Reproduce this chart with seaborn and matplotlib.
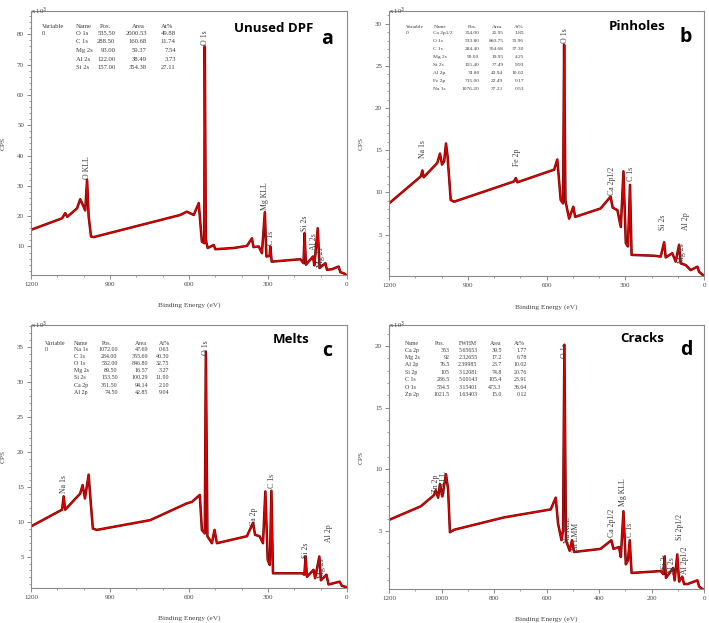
import matplotlib
matplotlib.use("Agg")
import matplotlib.pyplot as plt
import seaborn as sns
import pandas as pd
from matplotlib.ticker import MultipleLocator

sns.set_theme(style="ticks")
plt.rcParams['font.family'] = ['Liberation Serif', 'DejaVu Serif']

# --- spectra (binding energy eV, CPS in 10^3) ---
a_be = [1200, 1082, 1070, 1062, 1025, 1013, 1003, 994, 987, 981, 972, 962, 633, 608, 582, 563,
        551, 542, 540, 536, 529, 506, 500, 430, 380, 361, 355, 335, 323, 312, 306, 294, 291, 286,
        177, 165, 161, 156, 129, 124, 111, 104, 82, 76, 57, 32, 25, 13, 0]
a_cps = [15.5, 19.3, 21.0, 19.8, 22.6, 25.6, 23.7, 21.9, 32.0, 19.9, 13.3, 13.1, 20.4, 21.5, 20.4, 24.3,
         11.6, 11.1, 76.0, 12.2, 9.5, 10.5, 9.1, 9.5, 10.2, 12.7, 9.8, 10.0, 7.8, 21.3, 6.7, 6.9, 10.0, 5.0,
         5.8, 4.5, 14.4, 4.0, 6.7, 3.8, 16.0, 2.9, 4.5, 2.3, 2.5, 3.4, 1.5, 1.2, 0.4]

b_be = [1200, 1079, 1073, 1068, 1016, 1006, 998, 990, 983, 977, 965, 952, 724, 717, 711, 571,
        559, 546, 537, 533, 528, 514, 498, 491, 394, 356, 348, 330, 317, 307, 298, 290, 282, 276,
        190, 165, 152, 146, 121, 108, 95, 89, 70, 51, 25, 19, 0]
b_cps = [8.7, 11.9, 12.6, 11.8, 13.5, 14.6, 13.3, 13.7, 15.8, 14.3, 9.1, 8.9, 11.3, 11.7, 11.2, 12.7,
         13.9, 9.1, 8.7, 27.5, 9.0, 6.9, 8.3, 7.1, 8.1, 9.5, 8.2, 7.9, 5.9, 12.5, 4.0, 3.6, 10.9, 2.6,
         2.5, 2.4, 4.1, 2.3, 2.8, 1.8, 3.8, 1.6, 1.4, 0.8, 1.2, 0.6, 0.1]

c_be = [1200, 1082, 1076, 1070, 1013, 1004, 995, 981, 975, 965, 950, 747, 608, 589, 559, 551,
        540, 536, 530, 513, 503, 494, 380, 357, 349, 332, 319, 310, 301, 293, 287, 281, 171, 162,
        157, 152, 127, 121, 105, 99, 78, 70, 28, 19, 0]
c_cps = [9.3, 11.7, 13.6, 11.7, 14.0, 15.2, 13.3, 16.7, 13.6, 9.0, 8.8, 10.2, 12.6, 12.8, 13.8, 8.8,
         8.3, 34.3, 7.9, 6.9, 8.8, 6.9, 7.9, 9.8, 8.1, 7.9, 6.9, 14.3, 4.5, 3.8, 14.4, 2.6, 2.6, 2.4,
         5.0, 2.1, 3.1, 1.9, 5.0, 1.6, 2.4, 1.0, 1.4, 0.8, 0.6]

d_be = [1200, 1079, 1029, 1022, 1013, 1006, 997, 983, 975, 968, 952, 762, 584, 565, 556, 543,
        537, 532, 526, 512, 503, 495, 394, 353, 345, 324, 317, 307, 298, 290, 283, 276, 165, 155,
        150, 145, 118, 112, 102, 95, 83, 76, 63, 25, 19, 0]
d_cps = [5.9, 7.0, 7.9, 8.3, 7.7, 8.8, 7.8, 9.6, 8.4, 4.9, 5.1, 6.1, 6.75, 7.7, 5.6, 4.25,
         5.1, 20.1, 4.25, 3.4, 4.25, 3.3, 3.55, 4.25, 3.55, 3.7, 2.9, 6.6, 2.3, 2.6, 4.25, 1.6, 1.75, 1.5,
         2.9, 1.2, 2.0, 1.0, 3.1, 0.9, 1.3, 0.7, 0.7, 1.0, 0.5, 0.2]

# --- peak labels (text, eV, CPS where the text starts) ---
a_peaks = [("O KLL", 987, 32.4), ("O 1s", 539, 76.5), ("Mg KLL", 310, 22.0), ("C 1s", 289, 10.5),
           ("Si 2s", 158, 15.0), ("Al 2s", 127, 9.0), ("Mg 2s", 97, 3.4)]
b_peaks = [("Na 1s", 1069, 14.1), ("Fe 2p", 711, 13.1), ("O 1s", 530, 27.7), ("Ca 2p1/2", 349, 9.7),
           ("C 1s", 279, 11.3), ("Si 2s", 155, 5.55), ("Mg 2s", 83, 1.6), ("Al 2p", 70, 5.55)]
c_peaks = [("Na 1s", 1076, 14.05), ("O 1s", 536, 33.8), ("Ca 2p", 354, 9.3), ("C 1s", 285, 14.8),
           ("Si 2s", 156, 4.8), ("Mg 2s", 95, 1.9), ("Al 2p", 70, 7.1)]
d_peaks = [("Zn 2p", 1022, 8.1), ("O KLL", 990, 8.0), ("O 1s", 530, 19.0), ("Na KLL", 520, 4.0),
           ("Zn LMM", 486, 3.3), ("Ca 2p1/2", 349, 4.5), ("Mg KLL", 307, 7.0), ("C 1s", 282, 4.5),
           ("Si 2s", 150, 1.9), ("Al 2s", 121, 1.5), ("Si 2p1/2", 91, 4.25), ("Al 2p1/2", 72, 1.5)]

# --- quantification tables ---
a_header = ["Variable", "Name", "Pos.", "Area", "At%"]
a_rows = [["O 1s", "535.50", "2000.53", "49.88"], ["C 1s", "288.50", "160.68", "11.74"],
          ["Mg 2s", "93.00", "59.37", "7.54"], ["Al 2s", "122.00", "38.49", "3.73"],
          ["Si 2s", "157.00", "354.38", "27.11"]]
b_header = ["Variable", "Name", "Pos.", "Area", "At%"]
b_rows = [["Ca 2p1/2", "354.00", "25.95", "1.85"], ["O 1s", "533.80", "860.75", "35.96"],
          ["C 1s", "284.40", "304.68", "37.30"], ["Mg 2s", "90.00", "19.95", "4.25"],
          ["Si 2s", "155.40", "77.49", "9.93"], ["Al 2p", "74.80", "43.94", "10.02"],
          ["Fe 2p", "715.00", "22.49", "0.17"], ["Na 1s", "1076.20", "37.21", "0.53"]]
c_header = ["Variable", "Name", "Pos.", "Area", "At%"]
c_rows = [["Na 1s", "1072.00", "47.69", "0.63"], ["C 1s", "284.00", "355.69", "40.30"],
          ["O 1s", "532.00", "846.80", "32.75"], ["Mg 2s", "89.50", "16.57", "3.27"],
          ["Si 2s", "153.50", "100.29", "11.90"], ["Ca 2p", "351.50", "94.14", "2.10"],
          ["Al 2p", "74.50", "42.85", "9.04"]]
d_header = ["Name", "Pos.", "FWHM", "Area", "At%"]
d_rows = [["Ca 2p", "353", "5.65653", "39.5", "1.77"], ["Mg 2s", "92", "2.32655", "17.2", "6.78"],
          ["Al 2p", "76.5", "2.39985", "23.7", "10.02"], ["Si 2p", "105", "3.12081", "74.8", "20.76"],
          ["C 1s", "286.5", "5.00143", "105.4", "23.91"], ["O 1s", "534.5", "3.15401", "473.3", "36.64"],
          ["Zn 2p", "1021.5", "1.63403", "15.0", "0.12"]]

panels = [
    dict(be=a_be, cps=a_cps, peaks=a_peaks, header=a_header, rows=a_rows, var=True, fs=4.8,
         rect=[0.0437, 0.5586, 0.4457, 0.4238], ylim=(0.6, 87.7), ymaj=10, ymin=2, xmaj=300,
         title="Unused DPF", tx=0.767, ty=0.932, letter="a", lx=0.937, ly=0.895,
         hx=[0.034, 0.142, 0.237, 0.340, 0.430], cx=[0.142, 0.267, 0.367, 0.458],
         hy=0.943, ry=0.9155, dy=0.0325),
    dict(be=b_be, cps=b_cps, peaks=b_peaks, header=b_header, rows=b_rows, var=True, fs=3.9,
         rect=[0.5487, 0.5570, 0.4443, 0.4254], ylim=(0.1, 31.5), ymaj=5, ymin=1, xmaj=300,
         title="Pinholes", tx=0.788, ty=0.941, letter="b", lx=0.943, ly=0.902,
         hx=[0.053, 0.141, 0.265, 0.343, 0.412], cx=[0.141, 0.287, 0.363, 0.429],
         hy=0.940, ry=0.915, dy=0.0297),
    dict(be=c_be, cps=c_cps, peaks=c_peaks, header=c_header, rows=c_rows, var=True, fs=4.3,
         rect=[0.0437, 0.0562, 0.4457, 0.4222], ylim=(0.5, 38.1), ymaj=5, ymin=1, xmaj=300,
         title="Melts", tx=0.822, ty=0.943, letter="c", lx=0.937, ly=0.902,
         hx=[0.044, 0.136, 0.239, 0.348, 0.421], cx=[0.136, 0.274, 0.371, 0.438],
         hy=0.930, ry=0.908, dy=0.0274),
    dict(be=d_be, cps=d_cps, peaks=d_peaks, header=d_header, rows=d_rows, var=False, fs=4.2,
         rect=[0.5487, 0.0546, 0.4443, 0.4238], ylim=(0.3, 21.7), ymaj=5, ymin=1, xmaj=200,
         title="Cracks", tx=0.805, ty=0.95, letter="d", lx=0.943, ly=0.905,
         hx=[0.051, 0.160, 0.249, 0.339, 0.413], cx=[0.051, 0.192, 0.281, 0.358, 0.437],
         hy=0.931, ry=0.905, dy=0.0283),
]

fig = plt.figure(figsize=(7.09, 6.23), dpi=100)
txt = "#3a3a3a"

for p in panels:
    ax = fig.add_axes(p["rect"])
    df = pd.DataFrame({"be": p["be"], "cps": p["cps"]})
    sns.lineplot(data=df, x="be", y="cps", sort=False, estimator=None, ax=ax,
                 color="#6e0000", linewidth=1.8)
    sns.lineplot(data=df, x="be", y="cps", sort=False, estimator=None, ax=ax,
                 color="#e00000", linewidth=1.0)
    ax.set_xlim(1200, 0)
    ax.set_ylim(*p["ylim"])
    ax.xaxis.set_major_locator(MultipleLocator(p["xmaj"]))
    ax.xaxis.set_minor_locator(MultipleLocator(100))
    ax.yaxis.set_major_locator(MultipleLocator(p["ymaj"]))
    ax.yaxis.set_minor_locator(MultipleLocator(p["ymin"]))
    ax.tick_params(which="major", length=3, width=0.6, color="#777777", labelsize=5,
                   labelcolor="#444444", pad=2)
    ax.tick_params(which="minor", length=1.6, width=0.5, color="#777777")
    for s in ax.spines.values():
        s.set_color("#8a8a8a")
        s.set_linewidth(0.8)
    ax.set_xlabel("Binding Energy (eV)", fontsize=5.3, color="#444444")
    ax.set_ylabel("CPS", fontsize=5.3, color="#444444")
    ax.xaxis.set_label_coords(0.5, -0.105)
    ax.yaxis.set_label_coords(-0.08, 0.5)
    ax.text(0.0, 1.0, "x 10$^3$", transform=ax.transAxes, fontsize=4.8, color="#444444",
            ha="left", va="center")

    for lab, x, y in p["peaks"]:
        ax.text(x, y, lab, rotation=90, fontsize=5.6, color=txt, ha="center", va="bottom")

    # table
    hx, cx, fs = p["hx"], p["cx"], p["fs"]
    for i, h in enumerate(p["header"]):
        ha = "left" if i < (2 if p["var"] else 1) else "center"
        ax.text(hx[i], p["hy"], h, transform=ax.transAxes, fontsize=fs, color=txt,
                ha=ha, va="center")
    for r, row in enumerate(p["rows"]):
        y = p["ry"] - r * p["dy"]
        if p["var"] and r == 0:
            ax.text(hx[0], y, "0", transform=ax.transAxes, fontsize=fs, color=txt,
                    ha="left", va="center")
        for j, cell in enumerate(row):
            ha = "left" if j == 0 else "right"
            ax.text(cx[j], y, cell, transform=ax.transAxes, fontsize=fs, color=txt,
                    ha=ha, va="center")

    ax.text(p["tx"], p["ty"], p["title"], transform=ax.transAxes, fontsize=9.5,
            fontweight="bold", family=["Open Sans", "DejaVu Sans"], color="black",
            ha="center", va="center")
    ax.text(p["lx"], p["ly"], p["letter"], transform=ax.transAxes, fontsize=14,
            fontweight="bold", family=["Open Sans", "DejaVu Sans"], color="black",
            ha="center", va="center")

fig.savefig("out.png", dpi=100)
